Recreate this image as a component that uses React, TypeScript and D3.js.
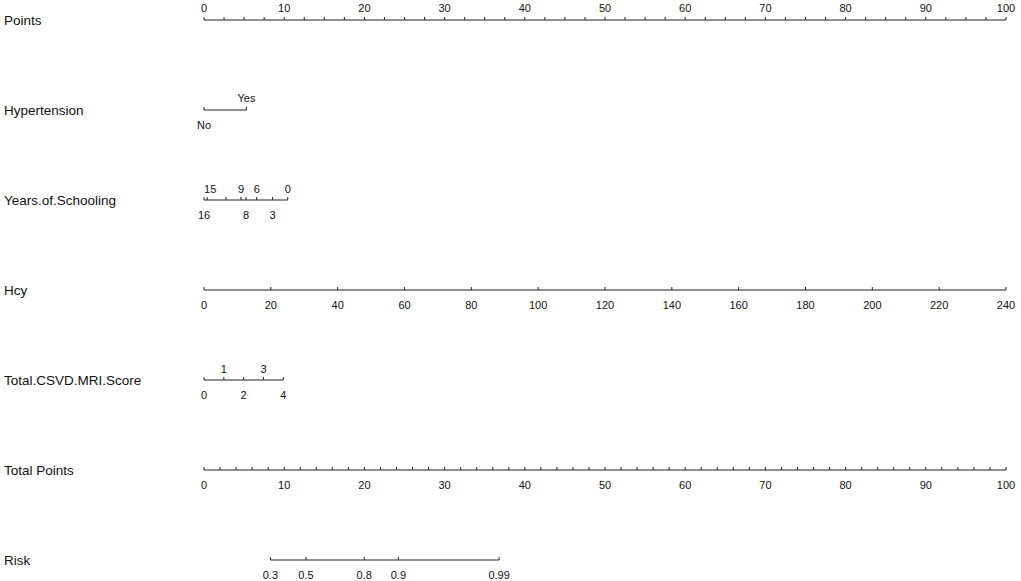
import React from "react";
import * as d3 from "d3";

// ---- data ----
const rowLabels = ["Points", "Hypertension", "Years.of.Schooling", "Hcy", "Total.CSVD.MRI.Score", "Total Points", "Risk"];

const pointsMajor = [0, 10, 20, 30, 40, 50, 60, 70, 80, 90, 100];
const pointsMinorStep = 2.5;

const hypertensionLevels = ["No", "Yes"];
const hypertensionPoints = [0, 5.3];

const schoolingValues = [16, 15, 12, 9, 8, 6, 3, 0];
const schoolingPoints = [0, 0.4, 2.74, 4.61, 5.24, 6.57, 8.56, 10.44];
const schoolingLabelSide = ["below", "above", "none", "above", "below", "above", "below", "above"];

const hcyTicks = [0, 20, 40, 60, 80, 100, 120, 140, 160, 180, 200, 220, 240];
const hcyRange = [0, 240];
const hcyPointsRange = [0, 100];

const csvdTicks = [0, 1, 2, 3, 4];
const csvdLabelSide = ["below", "above", "below", "above", "below"];
const csvdPointsRange = [0, 9.89];

const totalMajor = [0, 10, 20, 30, 40, 50, 60, 70, 80, 90, 100];
const totalMinorStep = 2;

const riskTicks = [0.3, 0.5, 0.8, 0.9, 0.99];
const riskIntercept = 12.72; // total points at logit = 0
const riskSlope = 5.24; // total points per logit unit

// ---- layout ----
const W = 1021;
const H = 581;
const rowY = d3.scaleLinear().domain([0, 6]).range([20, 560]);
const LINE = "#222";
const TXT = "#111";
const FONT = "Liberation Sans, Arial, Helvetica, sans-serif";

export default function App() {
  const x = d3.scaleLinear().domain([0, 100]).range([204, 1006]);
  const hcyScale = d3.scaleLinear().domain(hcyRange).range(hcyPointsRange);
  const csvdScale = d3.scaleLinear().domain([0, 4]).range(csvdPointsRange);
  const logit = (p: number) => Math.log(p / (1 - p));
  const riskToPts = (p: number) => riskIntercept + riskSlope * logit(p);

  const tickLen = 3;
  const above = (y: number) => y - 7;
  const below = (y: number) => y + 19;

  const Axis = ({ y, xs }: { y: number; xs: number[] }) => {
    const lo = d3.min(xs) as number;
    const hi = d3.max(xs) as number;
    return (
      <g>
        <line x1={lo} x2={hi} y1={y} y2={y} stroke={LINE} strokeWidth={1} />
        {xs.map((xx, i) => (
          <line key={i} x1={xx} x2={xx} y1={y} y2={y - tickLen} stroke={LINE} strokeWidth={1} />
        ))}
      </g>
    );
  };

  const Label = ({ x0, y, text }: { x0: number; y: number; text: string }) => (
    <text x={x0} y={y} textAnchor="middle" fontSize={11} fill={TXT} fontFamily={FONT}>
      {text}
    </text>
  );

  const pointsMinor = d3.range(0, 100 + 1e-9, pointsMinorStep);
  const totalMinor = d3.range(0, 100 + 1e-9, totalMinorStep);

  const y0 = rowY(0), y1 = rowY(1), y2 = rowY(2), y3 = rowY(3), y4 = rowY(4), y5 = rowY(5), y6 = rowY(6);

  return (
    <svg width={W} height={H} style={{ position: "absolute", left: 0, top: 0, background: "#fff" }}>
      {rowLabels.map((t, i) => (
        <text key={t} x={4} y={rowY(i) + 5} fontSize={13.5} fill={TXT} fontFamily={FONT}>
          {t}
        </text>
      ))}

      {/* Points */}
      <Axis y={y0} xs={pointsMinor.map((v) => x(v))} />
      {pointsMajor.map((v) => (
        <Label key={v} x0={x(v)} y={y0 - 8} text={String(v)} />
      ))}

      {/* Hypertension */}
      <Axis y={y1} xs={hypertensionPoints.map((p) => x(p))} />
      {hypertensionLevels.map((lv, i) => (
        <Label key={lv} x0={x(hypertensionPoints[i])} y={i === 0 ? below(y1) : y1 - 8} text={lv} />
      ))}

      {/* Years of schooling */}
      <Axis y={y2} xs={schoolingPoints.map((p) => x(p))} />
      {schoolingValues.map((v, i) =>
        schoolingLabelSide[i] === "none" ? null : (
          <Label
            key={v}
            x0={x(schoolingPoints[i]) + (v === 15 ? 3 : 0)}
            y={schoolingLabelSide[i] === "above" ? above(y2) : below(y2)}
            text={String(v)}
          />
        )
      )}

      {/* Hcy */}
      <Axis y={y3} xs={hcyTicks.map((v) => x(hcyScale(v)))} />
      {hcyTicks.map((v) => (
        <Label key={v} x0={x(hcyScale(v))} y={below(y3)} text={String(v)} />
      ))}

      {/* Total CSVD MRI score */}
      <Axis y={y4} xs={csvdTicks.map((v) => x(csvdScale(v)))} />
      {csvdTicks.map((v, i) => (
        <Label
          key={v}
          x0={x(csvdScale(v))}
          y={csvdLabelSide[i] === "above" ? above(y4) : below(y4)}
          text={String(v)}
        />
      ))}

      {/* Total points */}
      <Axis y={y5} xs={totalMinor.map((v) => x(v))} />
      {totalMajor.map((v) => (
        <Label key={v} x0={x(v)} y={below(y5)} text={String(v)} />
      ))}

      {/* Risk */}
      <Axis y={y6} xs={riskTicks.map((p) => x(riskToPts(p)))} />
      {riskTicks.map((p) => (
        <Label key={p} x0={x(riskToPts(p))} y={below(y6)} text={String(p)} />
      ))}
    </svg>
  );
}
